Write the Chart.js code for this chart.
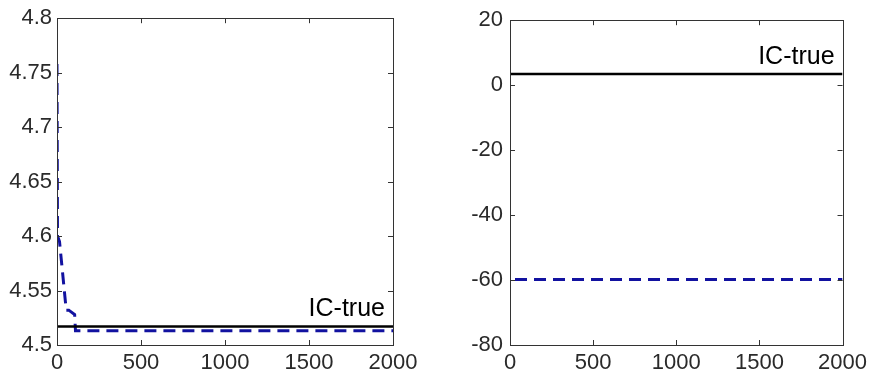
<!DOCTYPE html>
<html><head><meta charset="utf-8">
<script src="https://cdn.jsdelivr.net/npm/chart.js@4/dist/chart.umd.min.js"></script>
<style>
body{margin:0;background:#fff;width:872px;height:376px;overflow:hidden}
.c{position:absolute;top:0;width:436px;height:376px}
</style></head><body>
<div class="c" style="left:0"><canvas id="a" width="436" height="376"></canvas></div>
<div class="c" style="left:436px"><canvas id="b" width="436" height="376"></canvas></div>
<script>
const xTicks = [0, 500, 1000, 1500, 2000];
const leftYTicks = [4.5, 4.55, 4.6, 4.65, 4.7, 4.75, 4.8];
const rightYTicks = [-80, -60, -40, -20, 0, 20];
const leftTrueX = [0, 2000];
const leftTrueY = [4.517, 4.517];
const leftEstX = [0, 3, 15, 55, 70, 105, 110, 2000];
const leftEstY = [4.758, 4.6, 4.595, 4.532, 4.532, 4.528, 4.513, 4.513];
const rightTrueX = [0, 2000];
const rightTrueY = [3.4, 3.4];
const rightEstX = [30, 2000];
const rightEstY = [-59.8, -59.8];
const labelText = 'IC-true';

const FONT = '"Liberation Sans", Arial, sans-serif';
const pts = (xs, ys) => xs.map((x, i) => ({x: x, y: ys[i]}));

const boxPlugin = {
  id: 'mbox',
  afterDatasetsDraw(chart, args, opts) {
    const ctx = chart.ctx, a = chart.chartArea;
    const xs = chart.scales.x, ys = chart.scales.y;
    ctx.save();
    ctx.strokeStyle = '#333';
    ctx.lineWidth = 1;
    ctx.strokeRect(Math.round(a.left) + 0.5, Math.round(a.top) + 0.5, Math.round(a.right - a.left), Math.round(a.bottom - a.top));
    ctx.beginPath();
    const L = 5;
    xs.ticks.forEach(t => {
      const p = Math.round(xs.getPixelForValue(t.value)) + 0.5;
      ctx.moveTo(p, a.bottom); ctx.lineTo(p, a.bottom - L);
      ctx.moveTo(p, a.top); ctx.lineTo(p, a.top + L);
    });
    ys.ticks.forEach(t => {
      const p = Math.round(ys.getPixelForValue(t.value)) + 0.5;
      ctx.moveTo(a.left, p); ctx.lineTo(a.left + L, p);
      ctx.moveTo(a.right, p); ctx.lineTo(a.right - L, p);
    });
    ctx.stroke();
    ctx.fillStyle = '#000';
    ctx.font = '25px ' + FONT;
    ctx.textAlign = 'right';
    ctx.textBaseline = 'alphabetic';
    ctx.fillText(opts.text, a.right - 8, ys.getPixelForValue(opts.value) - 10);
    ctx.restore();
  }
};

function makeChart(id, trueX, trueY, estX, estY, yTicks, yW, padRight, yPad) {
  return new Chart(document.getElementById(id), {
    type: 'line',
    data: {
      datasets: [
        {data: pts(trueX, trueY), borderColor: '#000', borderWidth: 2.5, pointRadius: 0, tension: 0},
        {data: pts(estX, estY), borderColor: '#1212a0', borderWidth: 3, borderDash: [12, 7], pointRadius: 0, tension: 0}
      ]
    },
    options: {
      responsive: false, animation: false, devicePixelRatio: 1,
      layout: {padding: {top: 14, right: padRight, left: 0, bottom: 0}},
      plugins: {legend: {display: false}, tooltip: {enabled: false}, mbox: {text: labelText, value: trueY[0]}},
      scales: {
        x: {
          type: 'linear', min: 0, max: 2000,
          afterBuildTicks: s => { s.ticks = xTicks.map(v => ({value: v})); },
          afterFit: s => { s.height = 31; },
          grid: {display: false, drawTicks: false}, border: {display: false},
          ticks: {font: {family: FONT, size: 22}, color: '#2a2a2a', padding: 5, maxRotation: 0, autoSkip: false,
                  callback: v => String(v)}
        },
        y: {
          type: 'linear', min: yTicks[0], max: yTicks[yTicks.length - 1],
          afterBuildTicks: s => { s.ticks = yTicks.map(v => ({value: v})); },
          afterFit: s => { s.width = yW; },
          grid: {display: false, drawTicks: false}, border: {display: false},
          ticks: {font: {family: FONT, size: 22}, color: '#2a2a2a', padding: yPad, autoSkip: false,
                  callback: v => String(v)}
        }
      }
    },
    plugins: [boxPlugin]
  });
}

makeChart('a', leftTrueX, leftTrueY, leftEstX, leftEstY, leftYTicks, 57, 43, 5);
makeChart('b', rightTrueX, rightTrueY, rightEstX, rightEstY, rightYTicks, 74, 26, 7);
</script>
</body></html>
